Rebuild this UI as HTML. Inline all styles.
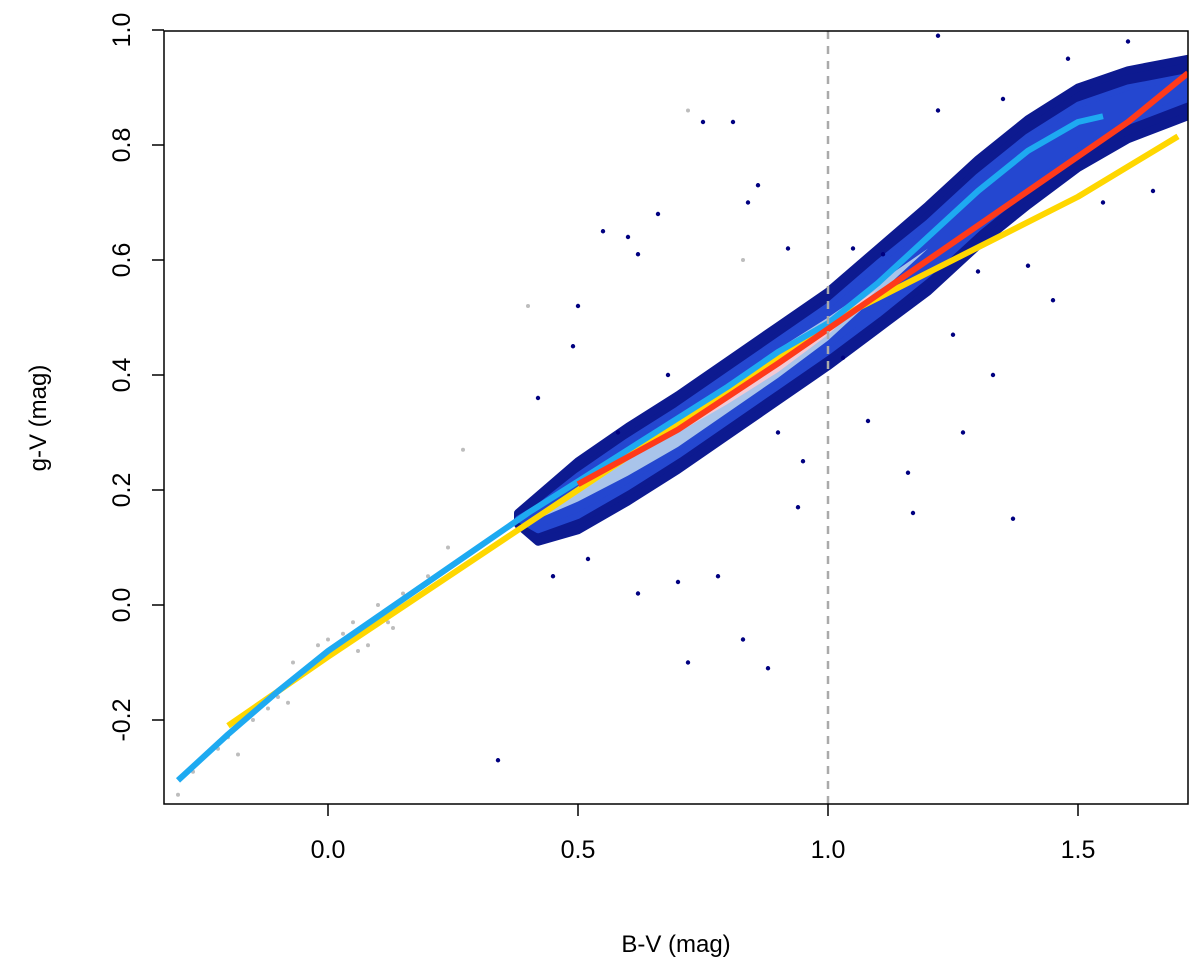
<!DOCTYPE html>
<html><head><meta charset="utf-8"><style>
body{margin:0;background:#fff}
svg{display:block;font-family:"Liberation Sans",Arial,sans-serif}
</style></head><body>
<svg id="chart" width="1200" height="975"></svg>
<script>
const bandX=[0.38,0.42,0.5,0.6,0.7,0.8,0.9,1.0,1.1,1.2,1.3,1.4,1.5,1.6,1.72];
const bandY=[0.15,0.15,0.19,0.245,0.30,0.36,0.42,0.48,0.55,0.62,0.70,0.77,0.83,0.87,0.90];
const bandOuter=[0.01,0.04,0.06,0.065,0.065,0.065,0.065,0.065,0.07,0.075,0.075,0.075,0.07,0.06,0.05];
const bandMid=[0.0,0.02,0.035,0.04,0.04,0.04,0.04,0.04,0.045,0.045,0.045,0.045,0.04,0.03,0.02];
const bandInner=[0.0,0.0,0.01,0.02,0.025,0.025,0.025,0.02,0.01,0.0,0.0,0.0,0.0,0.0,0.0];
const bandCore=[0.0,0.0,0.0,0.0,0.0,0.01,0.015,0.01,0.0,0.0,0.0,0.0,0.0,0.0,0.0];
const outX=[0.55,0.62,0.66,0.75,0.81,0.86,0.83,0.7,0.72,0.6,0.95,1.17,1.08,1.22,1.3,1.37,1.45,1.27,1.11,0.92,0.88,0.5,0.42,0.34,0.62,0.78,0.84,1.03,1.16,1.4,0.49,0.94,1.22,1.33,0.45,0.52,0.58,0.68,1.48,1.6,1.65,1.55,1.35,1.25,0.9,1.05];
const outY=[0.65,0.61,0.68,0.84,0.84,0.73,-0.06,0.04,-0.1,0.64,0.25,0.16,0.32,0.99,0.58,0.15,0.53,0.30,0.61,0.62,-0.11,0.52,0.36,-0.27,0.02,0.05,0.70,0.43,0.23,0.59,0.45,0.17,0.86,0.40,0.05,0.08,0.30,0.40,0.95,0.98,0.72,0.70,0.88,0.47,0.30,0.62];
const grayX=[-0.3,-0.27,-0.22,-0.18,-0.15,-0.12,-0.1,-0.07,-0.05,-0.02,0.0,0.03,0.05,0.08,0.1,0.13,0.15,0.18,0.2,0.24,0.27,-0.2,-0.08,0.12,0.06,0.4,0.72,0.83];
const grayY=[-0.33,-0.29,-0.25,-0.26,-0.2,-0.18,-0.16,-0.1,-0.12,-0.07,-0.06,-0.05,-0.03,-0.07,0.0,-0.04,0.02,0.03,0.05,0.1,0.27,-0.23,-0.17,-0.03,-0.08,0.52,0.86,0.60];
const blueLX=[-0.3,-0.2,-0.1,0.0,0.1,0.2,0.3,0.4,0.5,0.6,0.7,0.8,0.9,1.0,1.1,1.2,1.3,1.4,1.5,1.55];
const blueLY=[-0.305,-0.225,-0.15,-0.08,-0.02,0.04,0.1,0.16,0.215,0.27,0.325,0.38,0.44,0.49,0.56,0.64,0.72,0.79,0.84,0.85];
const yelX=[-0.2,0.0,0.5,1.0,1.5,1.7];
const yelY=[-0.21,-0.09,0.2,0.49,0.71,0.815];
const redX=[0.5,0.7,0.9,1.0,1.2,1.4,1.6,1.72];
const redY=[0.21,0.305,0.42,0.48,0.6,0.72,0.84,0.925];
const xTicks=[0.0,0.5,1.0,1.5];
const yTicks=[-0.2,0.0,0.2,0.4,0.6,0.8,1.0];
const xTickLabels=["0.0","0.5","1.0","1.5"];
const yTickLabels=["-0.2","0.0","0.2","0.4","0.6","0.8","1.0"];

const L=164,R=1188,T=31,B=804;
const sx=v=>328+500*v, sy=v=>605-575*v;
const svg=document.getElementById('chart');
const NS='http://www.w3.org/2000/svg';
function mk(tag,attrs,parent){const e=document.createElementNS(NS,tag);for(const k in attrs)e.setAttribute(k,attrs[k]);(parent||svg).appendChild(e);return e;}
const clip=mk('clipPath',{id:'pc'});mk('rect',{x:L,y:T,width:R-L,height:B-T},clip);
const g=mk('g',{'clip-path':'url(#pc)'});


function band(w,fill,name,sw){
  let pts=[];for(let i=0;i<bandX.length;i++)pts.push(sx(bandX[i])+','+sy(bandY[i]+w[i]));
  for(let i=bandX.length-1;i>=0;i--)pts.push(sx(bandX[i])+','+sy(bandY[i]-w[i]));
  const p=mk('polygon',{points:pts.join(' '),fill:fill,'stroke':fill,'stroke-width':sw,'stroke-linejoin':'round'},g);
  
  
}
grayX.forEach((x,i)=>{const c=mk('circle',{cx:sx(x),cy:sy(grayY[i]),r:2,fill:'#bdbdbd'},g);

});
band(bandOuter,'#0d1a90','density-outer',8);
band(bandMid,'#2447d0','density-mid',6);
band(bandInner,'#a9c4ea','density-inner',0);
band(bandCore,'#f2c9d4','density-core',0);
outX.forEach((x,i)=>{const c=mk('circle',{cx:sx(x),cy:sy(outY[i]),r:2.2,fill:'#000080'},g);

});
const vl=mk('line',{x1:sx(1),x2:sx(1),y1:T,y2:B,stroke:'#aaa','stroke-width':2.5,'stroke-dasharray':'8,7'});


function line(xs,ys,col,name){
  const d=xs.map((x,i)=>(i?'L':'M')+sx(x)+','+sy(ys[i])).join(' ');
  const p=mk('path',{d:d,fill:'none',stroke:col,'stroke-width':6,'stroke-linecap':'butt','stroke-linejoin':'round'},g);
  
  
}
line(yelX,yelY,'#ffd700','yellow-fit');
line(blueLX,blueLY,'#1eaaf1','blue-fit');
line(redX,redY,'#ff3a1a','red-fit');
const fr=mk('rect',{x:L,y:T,width:R-L,height:B-T,fill:'none',stroke:'#000','stroke-width':1.5});


xTicks.forEach((v,i)=>{const x=sx(v);mk('line',{x1:x,x2:x,y1:B,y2:B+12,stroke:'#000','stroke-width':1.5});
const t=mk('text',{x:x,y:B+54,'font-size':25,'text-anchor':'middle'});t.textContent=xTickLabels[i];

});
yTicks.forEach((v,i)=>{const y=sy(v);mk('line',{x1:L-12,x2:L,y1:y,y2:y,stroke:'#000','stroke-width':1.5});
const t=mk('text',{x:130,y:y,'font-size':25,'text-anchor':'middle',transform:`rotate(-90 130 ${y})`});t.textContent=yTickLabels[i];

});
const xt=mk('text',{x:676,y:952,'font-size':24,'text-anchor':'middle'});xt.textContent='B-V (mag)';


const yt=mk('text',{x:46,y:418,'font-size':24,'text-anchor':'middle',transform:'rotate(-90 46 418)'});yt.textContent='g-V (mag)';


</script>
</body></html>
